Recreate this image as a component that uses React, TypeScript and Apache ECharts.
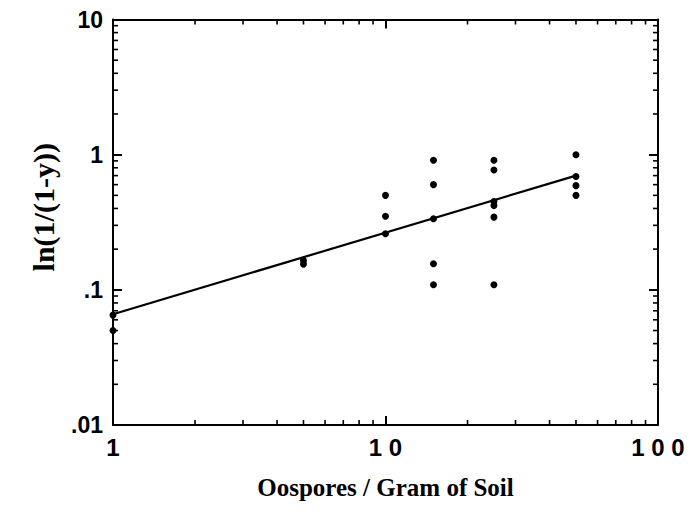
import React, { useEffect, useRef } from "react";
import * as echarts from "echarts";

const X_MIN = 1;
const X_MAX = 100;
const Y_MIN = 0.01;
const Y_MAX = 10;

const oospores = [1, 1, 5, 5, 10, 10, 10, 15, 15, 15, 15, 15, 25, 25, 25, 25, 25, 25, 50, 50, 50, 50];
const lnValues = [0.065, 0.05, 0.165, 0.155, 0.5, 0.35, 0.26, 0.91, 0.6, 0.336, 0.156, 0.109, 0.91, 0.77, 0.45, 0.42, 0.345, 0.109, 1.0, 0.69, 0.59, 0.5];

const fitX = [1, 50];
const fitY = [0.066, 0.7];

const xTickLabels: Record<number, string> = { 0: "1", 1: "1 0", 2: "1 0 0" };
const yTickLabels: Record<number, string> = { [-2]: ".01", [-1]: ".1", 0: "1", 1: "10" };

const xMinorTicks = [2, 3, 4, 5, 6, 7, 8, 9, 20, 30, 40, 50, 60, 70, 80, 90];
const yMinorTicks = [0.02, 0.03, 0.04, 0.05, 0.06, 0.07, 0.08, 0.09, 0.2, 0.3, 0.4, 0.5, 0.6, 0.7, 0.8, 0.9, 2, 3, 4, 5, 6, 7, 8, 9];

const INK = "#000";

export default function App() {
  const ref = useRef<HTMLDivElement>(null);
  useEffect(() => {
    if (!ref.current) return;
    const chart = echarts.init(ref.current, undefined, { renderer: "svg" });
    const tickFont = { fontFamily: "Liberation Sans", fontWeight: "bold" as const, color: INK };
    const nameFont = { fontFamily: "Liberation Serif", fontWeight: "bold" as const, color: INK };
    const axisLine = { show: true, onZero: false, lineStyle: { color: INK, width: 2 } };
    const majorTick = { show: true, inside: true, length: 9, lineStyle: { color: INK, width: 2 } };
    const minorLen = 5;
    const minorStyle = { stroke: INK, lineWidth: 1.6 };

    chart.setOption({
      animation: false,
      backgroundColor: "#fff",
      grid: { left: 105, right: 30, top: 10, bottom: 83, containLabel: false },
      xAxis: [
        {
          type: "log",
          logBase: 10,
          min: X_MIN,
          max: X_MAX,
          position: "bottom",
          axisLine,
          axisTick: majorTick,
          splitLine: { show: false },
          axisLabel: {
            ...tickFont,
            fontSize: 24,
            margin: 10,
            formatter: (v: number) => xTickLabels[Math.round(Math.log10(v))] ?? "",
          },
          name: "Oospores / Gram of Soil",
          nameLocation: "middle",
          nameGap: 50,
          nameTextStyle: { ...nameFont, fontSize: 25 },
        },
        {
          type: "log",
          logBase: 10,
          min: X_MIN,
          max: X_MAX,
          position: "top",
          axisLine,
          axisTick: majorTick,
          splitLine: { show: false },
          axisLabel: { show: false },
        },
      ],
      yAxis: [
        {
          type: "log",
          logBase: 10,
          min: Y_MIN,
          max: Y_MAX,
          position: "left",
          axisLine,
          axisTick: majorTick,
          splitLine: { show: false },
          axisLabel: {
            ...tickFont,
            fontSize: 23,
            margin: 10,
            formatter: (v: number) => yTickLabels[Math.round(Math.log10(v))] ?? "",
          },
          name: "ln(1/(1-y))",
          nameLocation: "middle",
          nameRotate: 90,
          nameGap: 55,
          nameTextStyle: { ...nameFont, fontSize: 30, padding: [0, 0, 0, 30] },
        },
        {
          type: "log",
          logBase: 10,
          min: Y_MIN,
          max: Y_MAX,
          position: "right",
          axisLine,
          axisTick: majorTick,
          splitLine: { show: false },
          axisLabel: { show: false },
        },
      ],
      series: [
        {
          type: "line",
          data: fitX.map((x, i) => [x, fitY[i]]),
          showSymbol: false,
          symbol: "none",
          lineStyle: { color: INK, width: 2.2 },
          z: 3,
        },
        {
          type: "scatter",
          data: oospores.map((x, i) => [x, lnValues[i]]),
          symbol: "circle",
          symbolSize: 7,
          itemStyle: { color: INK, opacity: 1 },
          z: 4,
        },
        {
          type: "custom",
          data: xMinorTicks.map((v) => [v, Y_MIN]),
          clip: false,
          renderItem: (_p: any, api: any) => {
            const v = api.value(0);
            const b = api.coord([v, Y_MIN]);
            const t = api.coord([v, Y_MAX]);
            return {
              type: "group",
              children: [
                { type: "line", shape: { x1: b[0], y1: b[1], x2: b[0], y2: b[1] - minorLen }, style: minorStyle },
                { type: "line", shape: { x1: t[0], y1: t[1], x2: t[0], y2: t[1] + minorLen }, style: minorStyle },
              ],
            };
          },
          z: 2,
        },
        {
          type: "custom",
          data: yMinorTicks.map((v) => [X_MIN, v]),
          clip: false,
          renderItem: (_p: any, api: any) => {
            const v = api.value(1);
            const l = api.coord([X_MIN, v]);
            const r = api.coord([X_MAX, v]);
            return {
              type: "group",
              children: [
                { type: "line", shape: { x1: l[0], y1: l[1], x2: l[0] + minorLen, y2: l[1] }, style: minorStyle },
                { type: "line", shape: { x1: r[0], y1: r[1], x2: r[0] - minorLen, y2: r[1] }, style: minorStyle },
              ],
            };
          },
          z: 2,
        },
      ],
    });
    return () => chart.dispose();
  }, []);
  return <div ref={ref} style={{ width: 680, height: 500 }} />;
}
